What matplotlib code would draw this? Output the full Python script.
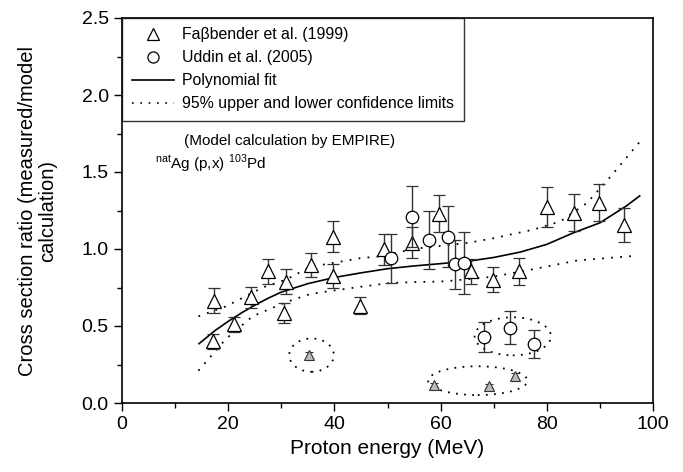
import matplotlib
matplotlib.use("Agg")
import matplotlib.pyplot as plt
from matplotlib.lines import Line2D
from matplotlib.patches import Ellipse
from matplotlib.ticker import MultipleLocator

plt.rcParams['font.family'] = ['Liberation Sans', 'DejaVu Sans']
plt.rcParams['mathtext.fontset'] = 'custom'
plt.rcParams['mathtext.rm'] = 'Liberation Sans'

# Faßbender et al. (1999)
fas_x = [17.4, 17.2, 21.0, 24.3, 27.5, 30.8, 30.5, 35.5, 39.8, 39.8, 44.8, 49.4,
         54.7, 59.7, 65.7, 69.9, 74.7, 80.0, 85.1, 89.9, 94.5]
fas_y = [0.665, 0.40, 0.51, 0.686, 0.854, 0.787, 0.583, 0.897, 1.08, 0.826, 0.632, 0.998,
         1.04, 1.228, 0.854, 0.80, 0.854, 1.27, 1.234, 1.30, 1.153]
fas_err = [0.08, 0.05, 0.05, 0.07, 0.08, 0.08, 0.065, 0.08, 0.10, 0.077, 0.056, 0.10,
           0.10, 0.12, 0.08, 0.08, 0.085, 0.13, 0.12, 0.12, 0.11]

# Faßbender outliers (grey, small)
fas_out_x = [35.2, 58.8, 69.2, 74.1]
fas_out_y = [0.31, 0.116, 0.11, 0.176]
fas_out_err = [0.02, 0.015, 0.015, 0.02]

# Uddin et al. (2005)
udd_x = [50.6, 54.7, 57.8, 61.4, 62.8, 64.5]
udd_y = [0.94, 1.21, 1.06, 1.08, 0.90, 0.91]
udd_err = [0.16, 0.20, 0.19, 0.20, 0.16, 0.20]

# Uddin outliers
udd_out_x = [68.2, 73.0, 77.5]
udd_out_y = [0.428, 0.49, 0.385]
udd_out_err = [0.10, 0.11, 0.09]

# Polynomial fit
fit_x = [14.5, 17.5, 20, 22.5, 25, 27.5, 30, 35, 40, 45, 50, 55, 60, 65, 70, 75,
         80, 85, 90, 95, 97.5]
fit_y = [0.385, 0.47, 0.53, 0.585, 0.635, 0.68, 0.72, 0.775, 0.815, 0.845, 0.872,
         0.89, 0.905, 0.92, 0.945, 0.98, 1.03, 1.105, 1.17, 1.28, 1.345]

# 95% confidence limits
up_x = [14.4, 19.6, 26.5, 30.8, 35.5, 39.8, 44.8, 49.4, 54.6, 60, 65.2, 70, 77.6,
        82.6, 87.6, 92, 97.6]
up_y = [0.563, 0.628, 0.75, 0.80, 0.884, 0.91, 0.94, 0.955, 1.0, 1.02, 1.04, 1.07,
        1.127, 1.18, 1.30, 1.47, 1.70]
lo_x = [14.4, 15.9, 19.6, 24.6, 30.8, 35.5, 39.8, 45, 50.6, 55, 60.8, 69.9, 77.6,
        85.8, 96.4]
lo_y = [0.21, 0.27, 0.417, 0.563, 0.654, 0.708, 0.73, 0.755, 0.78, 0.785, 0.79,
        0.82, 0.87, 0.926, 0.955]

fig = plt.figure(figsize=(6.83, 4.72), dpi=100)
ax = fig.add_axes([122/683, 1 - 403/472, (653-122)/683, (403-18)/472])

tri_kw = dict(fmt='^', mfc='white', mec='black', mew=0.9, ms=10.5, ecolor='#333333',
              elinewidth=1.0, capsize=4.5, capthick=1.0)
ax.errorbar(fas_x, fas_y, yerr=fas_err, **tri_kw, zorder=3)
ax.errorbar(fas_out_x, fas_out_y, yerr=fas_out_err, fmt='^', mfc='#bbbbbb', mec='#333333',
            mew=0.8, ms=7, ecolor='#333333', elinewidth=0.8, capsize=3, zorder=3)
circ_kw = dict(fmt='o', mfc='white', mec='black', mew=0.9, ms=9, ecolor='#333333',
               elinewidth=1.0, capsize=4.5, capthick=1.0)
ax.errorbar(udd_x, udd_y, yerr=udd_err, **circ_kw, zorder=4)
ax.errorbar(udd_out_x, udd_out_y, yerr=udd_out_err, **circ_kw, zorder=4)

ax.plot(fit_x, fit_y, color='black', lw=1.2, zorder=2)
ax.plot(up_x, up_y, color='black', lw=1.3, ls=(0, (1, 4)), zorder=2)
ax.plot(lo_x, lo_y, color='black', lw=1.3, ls=(0, (1, 4)), zorder=2)

for (cx, cy, w, h) in [(35.7, 0.311, 8.4, 0.217), (73.6, 0.433, 14.4, 0.247),
                       (67.0, 0.145, 18.7, 0.187)]:
    ax.add_patch(Ellipse((cx, cy), w, h, fill=False, ec='black', lw=1.3,
                         ls=(0, (1, 3.5)), zorder=2))

ax.text(31.6, 1.70, '(Model calculation by EMPIRE)', fontsize=11, ha='center', va='center')
ax.text(6.2, 1.52, r'$^{\mathrm{nat}}$Ag (p,x) $^{\mathrm{103}}$Pd', fontsize=11,
        ha='left', va='baseline')

ax.set_xlim(0, 100)
ax.set_ylim(0, 2.5)
ax.xaxis.set_major_locator(MultipleLocator(20))
ax.xaxis.set_minor_locator(MultipleLocator(10))
ax.yaxis.set_major_locator(MultipleLocator(0.5))
ax.yaxis.set_minor_locator(MultipleLocator(0.25))
ax.yaxis.set_major_formatter(plt.FormatStrFormatter('%.1f'))
ax.tick_params(which='major', direction='out', length=6, width=1.0, labelsize=14,
               top=False, right=False)
ax.tick_params(which='minor', direction='out', length=3.5, width=1.0, top=False, right=False)
for s in ax.spines.values():
    s.set_linewidth(1.2)

ax.set_xlabel('Proton energy (MeV)', fontsize=15, labelpad=4)
ax.set_ylabel('Cross section ratio (measured/model\ncalculation)', fontsize=14.5,
              linespacing=1.05, labelpad=18)

handles = [
    Line2D([], [], marker='^', ls='none', mfc='white', mec='black', ms=9, mew=0.9),
    Line2D([], [], marker='o', ls='none', mfc='white', mec='black', ms=8, mew=0.9),
    Line2D([], [], color='black', lw=1.2),
    Line2D([], [], color='black', lw=1.2, ls=(0, (1, 4))),
]
labels = ['Faβbender et al. (1999)', 'Uddin et al. (2005)', 'Polynomial fit',
          '95% upper and lower confidence limits']
leg = ax.legend(handles, labels, loc='upper left', bbox_to_anchor=(0, 1),
                fontsize=11.4, frameon=True, fancybox=False, edgecolor='black',
                borderaxespad=0, handlelength=2.7, handletextpad=0.5,
                labelspacing=0.5, borderpad=0.6)
leg.get_frame().set_linewidth(1.0)

fig.savefig('out.png', dpi=100)
